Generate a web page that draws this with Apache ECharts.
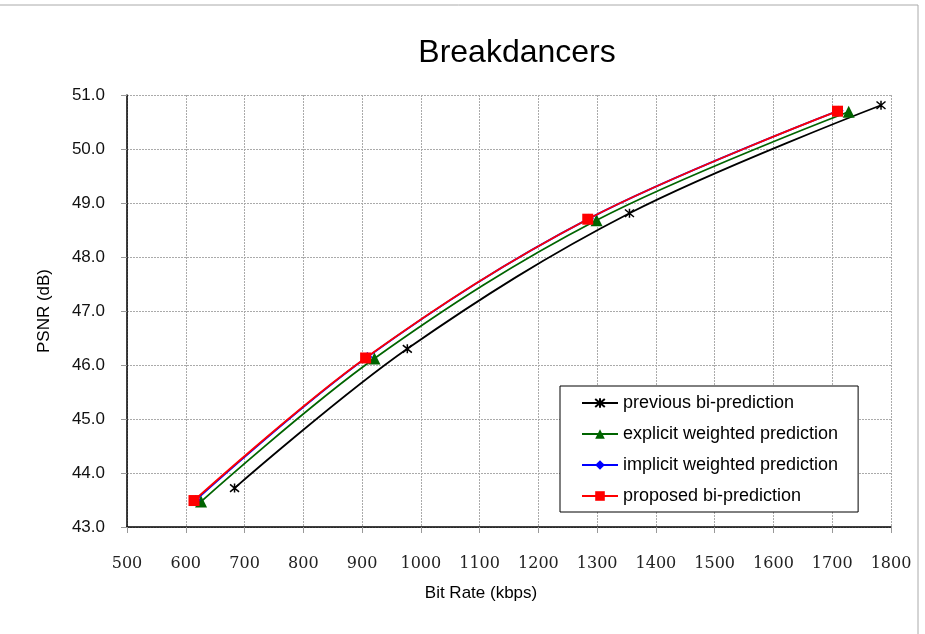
<!DOCTYPE html>
<html>
<head>
<meta charset="utf-8">
<script src="https://cdn.jsdelivr.net/npm/echarts@6/dist/echarts.min.js"></script>
<style>html,body{margin:0;padding:0;background:#fff}#c{width:925px;height:634px}</style>
</head>
<body>
<div id="c"></div>
<script>
var seriesNames = ['previous bi-prediction','explicit weighted prediction','implicit weighted prediction','proposed bi-prediction'];
var previousRate = [683, 977, 1355, 1783];
var previousPsnr = [43.72, 46.30, 48.81, 50.81];
var explicitRate = [626, 921, 1299, 1728];
var explicitPsnr = [43.47, 46.12, 48.68, 50.69];
var implicitRate = [617, 909, 1286, 1711];
var implicitPsnr = [43.50, 46.15, 48.71, 50.71];
var proposedRate = [614, 906, 1284, 1709];
var proposedPsnr = [43.49, 46.13, 48.70, 50.70];

function pairs(xs, ys){ return xs.map(function(x,i){ return [x, ys[i]]; }); }

var chart = echarts.init(document.getElementById('c'));
var starPath = 'path://M0,0L10,10M10,0L0,10M5,-1L5,11';
chart.setOption({
  animation: false,
  backgroundColor: '#fff',
  graphic: [{
    type: 'rect', shape: {x: -2, y: 5, width: 920, height: 640},
    style: {fill: 'none', stroke: '#aaa', lineWidth: 1}, silent: true, z: -10
  }],
  title: {
    text: 'Breakdancers', left: 512, textAlign: 'center', top: 32,
    textStyle: {fontFamily: 'Liberation Sans', fontSize: 32, fontWeight: 'normal', color: '#000'}
  },
  grid: {left: 127, right: 34, top: 95, bottom: 107, show: true, borderColor: '#999', borderWidth: 0},
  legend: {
    orient: 'vertical', left: 560, top: 386,
    backgroundColor: '#fff', borderColor: '#000', borderWidth: 1,
    padding: [8, 20, 7, 21], itemGap: 13, itemWidth: 36, itemHeight: 12,
    textStyle: {fontFamily: 'Liberation Sans', fontSize: 18, color: '#000'},
    data: seriesNames
  },
  xAxis: {
    type: 'value', min: 500, max: 1800, interval: 100,
    name: 'Bit Rate (kbps)', nameLocation: 'middle', nameGap: 58,
    nameTextStyle: {fontFamily: 'Liberation Sans', fontSize: 17, color: '#000', padding: [0, 56, 0, 0]},
    axisLine: {show: true, onZero: false, lineStyle: {color: '#000', width: 1.5}},
    axisTick: {show: true, inside: false, length: 6, lineStyle: {color: '#999'}},
    axisLabel: {margin: 29, fontFamily: 'DejaVu Serif', fontSize: 16, color: '#222',
      formatter: function(v){ return String(v); }},
    splitLine: {show: true, lineStyle: {color: '#aaa', type: [2, 1], width: 1}}
  },
  yAxis: {
    type: 'value', min: 43, max: 51, interval: 1,
    name: 'PSNR (dB)', nameLocation: 'middle', nameGap: 74,
    nameTextStyle: {fontFamily: 'Liberation Sans', fontSize: 17, color: '#000'},
    axisLine: {show: true, onZero: false, lineStyle: {color: '#000', width: 1.5}},
    axisTick: {show: true, inside: false, length: 6, lineStyle: {color: '#999'}},
    axisLabel: {margin: 22, fontFamily: 'Liberation Sans', fontSize: 17, color: '#111',
      formatter: function(v){ return v.toFixed(1); }},
    splitLine: {show: true, lineStyle: {color: '#aaa', type: [2, 1], width: 1}}
  },
  series: [
    {name: seriesNames[0], type: 'line', smooth: 0.35, data: pairs(previousRate, previousPsnr),
     symbol: starPath, symbolSize: 9, lineStyle: {color: '#000', width: 1.8},
     itemStyle: {color: '#000', borderColor: '#000', borderWidth: 1.5}, z: 2},
    {name: seriesNames[1], type: 'line', smooth: 0.35, data: pairs(explicitRate, explicitPsnr),
     symbol: 'triangle', symbolSize: 12, lineStyle: {color: '#006400', width: 1.8},
     itemStyle: {color: '#006400'}, z: 3},
    {name: seriesNames[2], type: 'line', smooth: 0.35, data: pairs(implicitRate, implicitPsnr),
     symbol: 'diamond', symbolSize: 10, lineStyle: {color: '#0000ff', width: 1.8},
     itemStyle: {color: '#0000ff'}, z: 4},
    {name: seriesNames[3], type: 'line', smooth: 0.35, data: pairs(proposedRate, proposedPsnr),
     symbol: 'rect', symbolSize: 11, lineStyle: {color: '#ff0000', width: 1.8},
     itemStyle: {color: '#ff0000'}, z: 5}
  ]
});
</script>
</body>
</html>
